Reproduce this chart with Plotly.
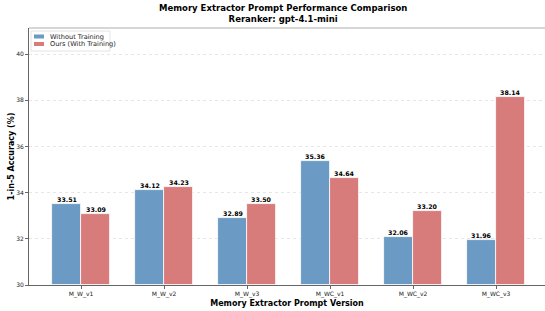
import plotly.graph_objects as go

categories = ["M_W_v1", "M_W_v2", "M_W_v3", "M_WC_v1", "M_WC_v2", "M_WC_v3"]
without_training = [33.51, 34.12, 32.89, 35.36, 32.06, 31.96]
with_training = [33.09, 34.23, 33.50, 34.64, 33.20, 38.14]
y_ticks = [30, 32, 34, 36, 38, 40]
series_names = ["Without Training", "Ours (With Training)"]

blue = "#6b9bc4"
red = "#d87b7b"
font = "DejaVu Sans"

W, H = 545, 311
ML, MR, MT, MB = 29, 0, 28, 26
XR = [-0.627, 5.59]

pw, ph = W - ML - MR, H - MT - MB
unit_px = pw / (XR[1] - XR[0])

fig = go.Figure()
for vals, name, color, off in [(without_training, series_names[0], blue, -0.35),
                               (with_training, series_names[1], red, 0)]:
    fig.add_trace(go.Bar(
        x=categories, y=[v - 30 for v in vals], base=30,
        name=name, marker=dict(color=color, line=dict(color="white", width=0.8)),
        width=0.35, offset=off, showlegend=False,
    ))
    for c, v in zip(categories, vals):
        fig.add_annotation(x=c, y=v, xref="x", yref="y", text=f"<b>{v:.2f}</b>",
                           showarrow=False, xanchor="center", yanchor="bottom",
                           xshift=(off + 0.175) * unit_px, yshift=-1,
                           font=dict(family=font, size=6.3, color="black"))

fig.update_layout(
    width=W, height=H,
    margin=dict(l=ML, r=MR, t=MT, b=MB, autoexpand=False),
    plot_bgcolor="white", paper_bgcolor="white",
    font=dict(family=font, size=6, color="#222"),
    bargap=0,
)
fig.update_xaxes(
    range=XR, showline=True, linecolor="#666", linewidth=1,
    ticks="outside", ticklen=3, tickcolor="#666", tickfont=dict(size=6, color="#222"),
    showgrid=False,
    title=dict(text="<b>Memory Extractor Prompt Version</b>", font=dict(size=8, color="black"), standoff=3),
)
fig.update_yaxes(
    range=[30, 41.13], tickvals=y_ticks, ticktext=[str(t) for t in y_ticks],
    showline=True, linecolor="#666", linewidth=1,
    ticks="outside", ticklen=3, tickcolor="#666", tickfont=dict(size=6, color="#222"),
    showgrid=True, gridcolor="#e6e6e6", griddash="dot", gridwidth=0.7,
    zeroline=False,
    title=dict(text="<b>1-in-5 Accuracy (%)</b>", font=dict(size=8, color="black"), standoff=0),
)
# top spine
fig.add_shape(type="line", xref="paper", yref="paper", x0=0, x1=1, y0=1, y1=1,
              line=dict(color="#c8c8c8", width=1.5))

def px(x): return (x - ML) / pw
def py(y): return 1 - (y - MT) / ph

# title
fig.add_annotation(xref="paper", yref="paper", x=px(W / 2 + 10), y=py(1), xanchor="center", yanchor="top",
                   text="<b>Memory Extractor Prompt Performance Comparison<br>Reranker: gpt-4.1-mini</b>",
                   showarrow=False, font=dict(family=font, size=8.5, color="black"))

# manual legend
fig.add_shape(type="rect", xref="paper", yref="paper", x0=px(31), x1=px(110), y0=py(31), y1=py(51),
              line=dict(color="#dddddd", width=0.8), fillcolor="rgba(255,255,255,0.85)")
for i, (name, color) in enumerate(zip(series_names, [blue, red])):
    yc = 36.5 + i * 7.5
    fig.add_shape(type="rect", xref="paper", yref="paper", x0=px(34), x1=px(44),
                  y0=py(yc + 2), y1=py(yc - 2), line=dict(width=0), fillcolor=color)
    fig.add_annotation(xref="paper", yref="paper", x=px(48), y=py(yc), text=name,
                       showarrow=False, xanchor="left", yanchor="middle",
                       font=dict(family=font, size=6.6, color="#222"))

fig.write_html("out.html", config={"displayModeBar": False},
               post_script="document.body.style.margin='0';")
